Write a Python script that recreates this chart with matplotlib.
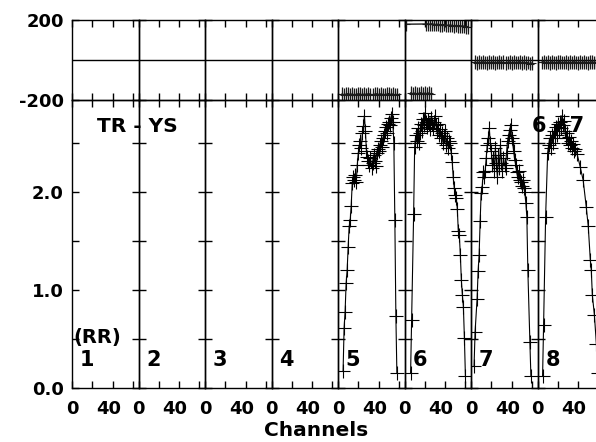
import numpy as np
from matplotlib import pyplot
from matplotlib.ticker import FixedLocator, NullFormatter
from matplotlib.transforms import ScaledTranslation

pyplot.rcParams['font.family'] = ['DejaVu Sans']
pyplot.rcParams['font.weight'] = 'bold'

# panel labels and axis text
panelNames = ['1', '2', '3', '4', '5', '6', '7', '8']
xTicks = [0, 20, 40, 60]
xTickLabels = ['0', '', '40', '']
ampTicks = [0.0, 0.5, 1.0, 1.5, 2.0, 2.5]
ampTickLabels = ['0.0', '', '1.0', '', '2.0', '']
phaseTicks = [-200, 200]

# amplitude, panel 5
amp5Ch = [5, 6, 7, 8, 9, 10, 11, 12, 13, 14, 15, 16, 17, 18, 19, 20, 21, 22, 23, 24, 25, 26, 27,
          28, 29, 30, 31, 32, 33, 34, 35, 36, 37, 38, 39, 40, 41, 42, 43, 44, 45, 46, 47, 48, 49,
          50, 51, 52, 53, 54, 55, 56, 57, 58]
amp5 = [0.17, 0.61, 0.78, 1.07, 1.20, 1.44, 1.65, 1.71, 1.86, 2.09, 2.15, 2.12, 2.17, 2.10, 2.28,
        2.40, 2.48, 2.52, 2.45, 2.60, 2.67, 2.78, 2.62, 2.42, 2.36, 2.32, 2.28, 2.35, 2.25, 2.30,
        2.38, 2.32, 2.27, 2.40, 2.44, 2.42, 2.48, 2.52, 2.46, 2.55, 2.58, 2.62, 2.66, 2.60, 2.70,
        2.72, 2.68, 2.76, 2.80, 2.72, 2.50, 1.71, 0.74, 0.15]

# amplitude, panel 6
amp6Ch = [6, 7, 9, 10, 11, 12, 13, 14, 15, 16, 17, 18, 19, 20, 21, 22, 23, 24, 25, 26, 27, 28, 29,
          30, 31, 32, 33, 34, 35, 36, 37, 38, 39, 40, 41, 42, 43, 44, 45, 46, 47, 48, 49, 50, 51,
          52, 53, 54, 55, 56, 57, 58, 59, 60]
amp6 = [0.15, 0.69, 1.78, 2.46, 2.58, 2.52, 2.65, 2.50, 2.60, 2.70, 2.62, 2.75, 2.68, 2.81, 2.72,
        2.66, 2.74, 2.70, 2.64, 2.76, 2.70, 2.65, 2.72, 2.78, 2.68, 2.62, 2.70, 2.58, 2.64, 2.55,
        2.60, 2.50, 2.57, 2.62, 2.48, 2.55, 2.45, 2.52, 2.50, 2.40, 2.31, 2.15, 2.04, 1.97, 1.94,
        1.83, 1.60, 1.56, 1.36, 1.10, 0.95, 0.83, 0.51, 0.12]

# amplitude, panel 7
amp7Ch = [3, 4, 6, 7, 8, 9, 10, 11, 12, 13, 14, 15, 16, 17, 18, 19, 20, 21, 22, 23, 24, 25, 26,
          27, 28, 29, 30, 31, 32, 33, 34, 35, 36, 37, 38, 39, 40, 41, 42, 43, 44, 45, 46, 47, 48,
          49, 50, 51, 52, 53, 54, 55, 56, 58, 59]
amp7 = [0.22, 0.57, 0.91, 1.19, 1.36, 1.70, 1.99, 2.05, 2.20, 2.15, 2.22, 2.35, 2.48, 2.55, 2.65,
        2.50, 2.42, 2.28, 2.35, 2.22, 2.45, 2.30, 2.15, 2.38, 2.25, 2.48, 2.30, 2.22, 2.35, 2.28,
        2.25, 2.40, 2.52, 2.58, 2.63, 2.68, 2.55, 2.50, 2.42, 2.33, 2.28, 2.20, 2.15, 2.22, 2.12,
        2.10, 2.06, 2.12, 2.04, 2.00, 1.89, 1.75, 1.20, 0.47, 0.12]

# amplitude, panel 8
amp8Ch = [5, 6, 8, 10, 11, 12, 13, 14, 15, 16, 17, 18, 19, 20, 21, 22, 23, 24, 25, 26, 27, 28, 29,
          30, 31, 32, 33, 34, 35, 36, 37, 39, 42, 45, 48, 50, 52, 53, 54, 56, 58, 60]
amp8 = [0.12, 0.64, 1.75, 2.40, 2.48, 2.55, 2.45, 2.58, 2.50, 2.62, 2.55, 2.66, 2.58, 2.70, 2.62,
        2.72, 2.65, 2.78, 2.68, 2.73, 2.62, 2.55, 2.60, 2.50, 2.56, 2.48, 2.52, 2.45, 2.49, 2.42,
        2.44, 2.39, 2.26, 2.12, 1.85, 1.65, 1.31, 1.20, 0.95, 0.75, 0.45, 0.15]

# phase, panels 5 to 8
ph5Ch = [4, 6, 8, 10, 12, 14, 16, 18, 20, 22, 24, 26, 28, 30, 32, 34, 36, 38, 40, 42, 44, 46, 48,
         50, 52, 54, 56, 58]
ph5 = [-170, -174, -171, -168, -173, -170, -175, -172, -169, -171, -174, -170, -173, -168, -172,
       -175, -171, -169, -173, -170, -172, -174, -171, -168, -173, -170, -176, -172]

ph6LowCh = [6, 8, 10, 12, 14, 16, 18, 20, 22, 24, 26]
ph6Low = [-165, -168, -166, -170, -167, -164, -169, -166, -168, -165, -170]
ph6HighCh = [1, 21, 23, 25, 27, 29, 31, 33, 35, 37, 39, 41, 43, 45, 47, 49, 51, 53, 55, 57, 59, 61,
             63]
ph6High = [179, 180, 181, 179, 181, 178, 177, 179, 176, 175, 177, 174, 173, 175, 172, 171, 173,
           170, 169, 171, 168, 166, 164]

ph7Ch = [4, 6, 8, 10, 12, 14, 16, 18, 20, 22, 24, 26, 28, 30, 32, 34, 36, 38, 40, 42, 44, 46, 48,
         50, 52, 54, 56, 58, 60]
ph7 = [-10, -14, -11, -13, -9, -12, -15, -11, -13, -10, -14, -12, -9, -13, -11, -15, -12, -10, -14,
       -11, -13, -12, -9, -14, -11, -16, -13, -18, -15]

ph8Ch = [4, 6, 8, 10, 12, 14, 16, 18, 20, 22, 24, 26, 28, 30, 32, 34, 36, 38, 40, 42, 44, 46, 48,
         50, 52, 54, 56, 58, 60, 62]
ph8 = [-12, -9, -13, -11, -14, -10, -12, -15, -11, -9, -13, -12, -10, -14, -11, -13, -9, -12, -15,
       -11, -13, -10, -12, -14, -11, -9, -13, -12, -10, -14]

ampData = {4: (amp5Ch, amp5), 5: (amp6Ch, amp6), 6: (amp7Ch, amp7), 7: (amp8Ch, amp8)}
phaseData = {4: [(ph5Ch, ph5)], 5: [(ph6LowCh, ph6Low), (ph6HighCh, ph6High)],
             6: [(ph7Ch, ph7)], 7: [(ph8Ch, ph8)]}

W, H = 596, 442
figure = pyplot.figure(figsize=(W / 100, H / 100), dpi=100)

left0 = 72.0
panelW = 66.5
xMax = 65.5

for i in range(8):
    left = (left0 + i * panelW) / W
    axPh = figure.add_axes([left, (H - 100) / H, panelW / W, 80 / H])
    axAmp = figure.add_axes([left, (H - 388) / H, panelW / W, 288 / H])

    for ax in (axPh, axAmp):
        ax.set_facecolor('none')
        ax.set_xlim(0, xMax)
        ax.xaxis.set_major_locator(FixedLocator(xTicks))
        for sp in ax.spines.values():
            sp.set_linewidth(1.0)
        ax.tick_params(which='both', direction='in', length=5, width=1,
                       top=True, bottom=True, left=True, right=True, labelsize=13)

    axPh.set_ylim(-200, 200)
    axPh.set_yticks(phaseTicks)
    axPh.axhline(0, color='black', lw=1)
    axPh.xaxis.set_major_formatter(NullFormatter())

    axAmp.set_ylim(0, 2.94)
    axAmp.set_yticks(ampTicks)
    axAmp.set_xticklabels(xTickLabels)
    axAmp.tick_params(axis='x', pad=9)
    # the "40" labels sit a little left of their tick
    shift = ScaledTranslation(-4 / 100, 0, figure.dpi_scale_trans)
    lab40 = axAmp.get_xticklabels()[2]
    lab40.set_transform(lab40.get_transform() + shift)

    if i == 0:
        axPh.set_yticklabels([str(t) for t in phaseTicks])
        axAmp.set_yticklabels(ampTickLabels)
        axPh.tick_params(axis='y', pad=6)
        axAmp.tick_params(axis='y', pad=6)
    else:
        axPh.set_yticklabels([])
        axAmp.set_yticklabels([])

    if i in ampData:
        ch, amp = ampData[i]
        axAmp.plot(ch, amp, color='black', lw=0.8, marker='+', ms=10, mew=0.8)
        for ch, ph in phaseData[i]:
            axPh.errorbar(ch, ph, yerr=34, color='0.1', lw=1.0, marker='+', ms=6,
                          mew=0.8, elinewidth=0.9, capsize=0)

    axAmp.text(14.8, 0.29, panelNames[i], ha='center', va='center', fontsize=15,
               fontweight='bold')

    if i == 0:
        axAmp.text(1.5, 0.52, '(RR)', ha='left', va='center', fontsize=14,
                   fontweight='bold')

figure.text(137.5 / W, 1 - 126 / H, 'TR - YS', ha='center', va='center', fontsize=14.5,
            fontweight='bold')
figure.text(532 / W, 1 - 126 / H, '6 - 7', ha='left', va='center', fontsize=15,
            fontweight='bold')
figure.text(316 / W, 1 - 430 / H, 'Channels', ha='center', va='center', fontsize=14.5,
            fontweight='bold')

pyplot.savefig('out.png', dpi=100)
